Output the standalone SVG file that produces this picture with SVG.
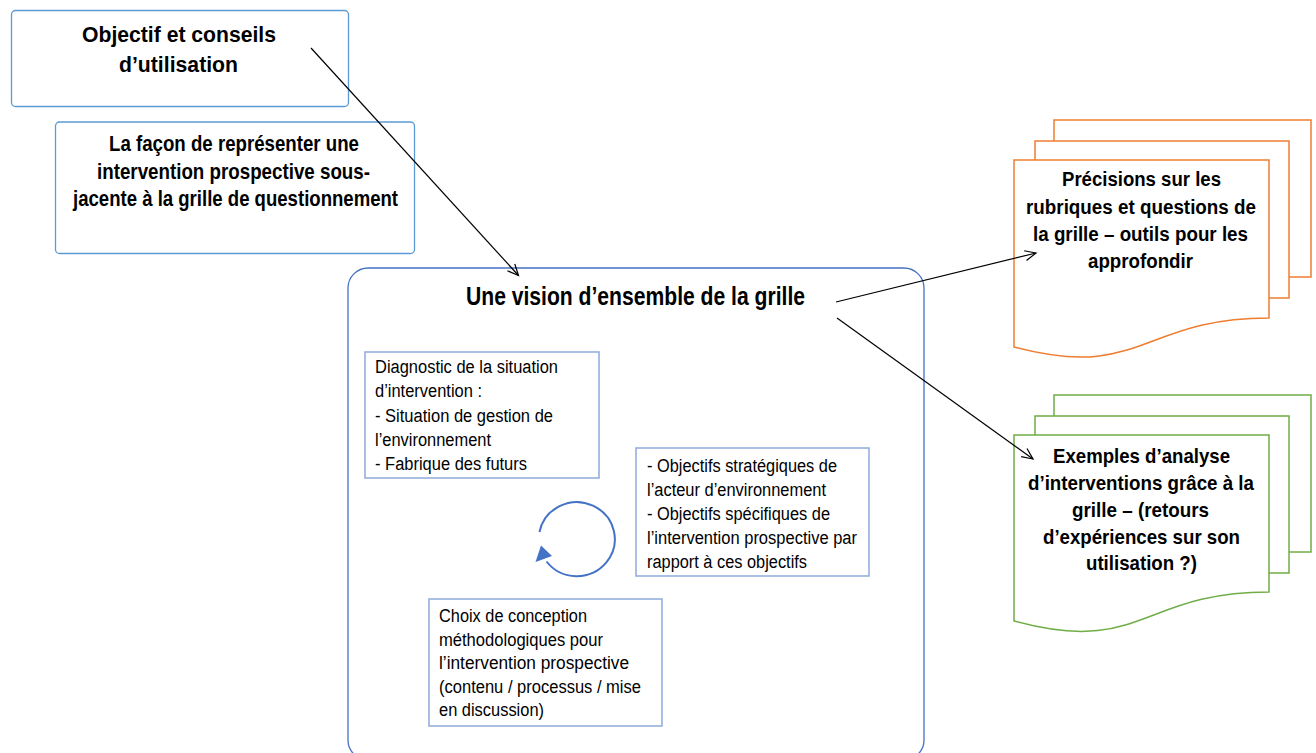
<svg xmlns="http://www.w3.org/2000/svg" width="1316" height="753" viewBox="0 0 1316 753">
<defs>
<style>
.b{font-family:"Liberation Sans",Arial,sans-serif;font-weight:bold;fill:#000}
.r{font-family:"Liberation Sans",Arial,sans-serif;font-size:18px;fill:#000}
.lb{fill:#fff;stroke:#5B9BD5;stroke-width:1.3}
.ib{fill:#fff;stroke:#8FAADC;stroke-width:1.5}
.or{fill:#fff;stroke:#ED7D31;stroke-width:1.5}
.gr{fill:#fff;stroke:#70AD47;stroke-width:1.5}
.cn{fill:none;stroke:#000;stroke-width:1.2}
</style>
<marker id="ah" markerUnits="userSpaceOnUse" markerWidth="14" markerHeight="12" viewBox="0 0 14 12" refX="12" refY="6" orient="auto">
<path d="M1,1 L12,6 L1,11" fill="none" stroke="#000" stroke-width="1.2"/>
</marker>
</defs>
<rect width="1316" height="753" fill="#fff"/>

<g id="objectif">
<rect class="lb" x="11.5" y="10.5" width="337" height="96" rx="4"/>
<text class="b" font-size="22.5" x="82" y="42" textLength="194" lengthAdjust="spacingAndGlyphs">Objectif et conseils</text>
<text class="b" font-size="22.5" x="119" y="71.5" textLength="119" lengthAdjust="spacingAndGlyphs">d’utilisation</text>
</g>

<g id="facon">
<rect class="lb" x="55.5" y="122" width="359" height="131.5" rx="4"/>
<text class="b" font-size="21.5" x="109" y="151" textLength="250" lengthAdjust="spacingAndGlyphs">La façon de représenter une</text>
<text class="b" font-size="21.5" x="97" y="178.5" textLength="273" lengthAdjust="spacingAndGlyphs">intervention prospective sous-</text>
<text class="b" font-size="21.5" x="73" y="206" textLength="325" lengthAdjust="spacingAndGlyphs">jacente à la grille de questionnement</text>
</g>

<g id="vision">
<rect x="348" y="268" width="576" height="492" rx="20" fill="#fff" stroke="#4472C4" stroke-width="1.3"/>
<text class="b" font-size="25" x="466" y="305" textLength="339" lengthAdjust="spacingAndGlyphs">Une vision d’ensemble de la grille</text>
</g>

<g id="diagnostic">
<rect class="ib" x="365" y="352" width="234" height="126"/>
<text class="r" x="375" y="373" textLength="183" lengthAdjust="spacingAndGlyphs">Diagnostic de la situation</text>
<text class="r" x="375" y="397" textLength="107" lengthAdjust="spacingAndGlyphs">d’intervention :</text>
<text class="r" x="375" y="421.5" textLength="178" lengthAdjust="spacingAndGlyphs">- Situation de gestion de</text>
<text class="r" x="375" y="445.5" textLength="116" lengthAdjust="spacingAndGlyphs">l’environnement</text>
<text class="r" x="375" y="469.5" textLength="152" lengthAdjust="spacingAndGlyphs">- Fabrique des futurs</text>
</g>

<g id="objectifs">
<rect class="ib" x="636" y="448" width="233" height="128"/>
<text class="r" x="647" y="472" textLength="190" lengthAdjust="spacingAndGlyphs">- Objectifs stratégiques de</text>
<text class="r" x="647" y="496" textLength="179" lengthAdjust="spacingAndGlyphs">l’acteur d’environnement</text>
<text class="r" x="647" y="520" textLength="183" lengthAdjust="spacingAndGlyphs">- Objectifs spécifiques de</text>
<text class="r" x="647" y="544" textLength="210" lengthAdjust="spacingAndGlyphs">l’intervention prospective par</text>
<text class="r" x="647" y="568" textLength="160" lengthAdjust="spacingAndGlyphs">rapport à ces objectifs</text>
</g>

<g id="choix">
<rect class="ib" x="429" y="599" width="233" height="127"/>
<text class="r" x="439" y="622" textLength="148" lengthAdjust="spacingAndGlyphs">Choix de conception</text>
<text class="r" x="439" y="645.5" textLength="164" lengthAdjust="spacingAndGlyphs">méthodologiques pour</text>
<text class="r" x="439" y="669" textLength="190" lengthAdjust="spacingAndGlyphs">l’intervention prospective</text>
<text class="r" x="439" y="692.5" textLength="202" lengthAdjust="spacingAndGlyphs">(contenu / processus / mise</text>
<text class="r" x="439" y="716" textLength="105" lengthAdjust="spacingAndGlyphs">en discussion)</text>
</g>

<g id="cycle">
<path d="M539.5,532 A38,37 0 1 1 546.5,561.5" fill="none" stroke="#4472C4" stroke-width="2"/>
<polygon points="535.5,562 541,545.5 552,556" fill="#4472C4"/>
</g>

<g id="precisions">
<rect class="or" x="1054" y="120" width="257" height="157"/>
<rect class="or" x="1035" y="141" width="254" height="157"/>
<path class="or" d="M1014,160 H1269 V318 C1141.5,318 1141.5,381 1014,347 Z"/>
<text class="b" font-size="20" x="1062" y="186" textLength="159" lengthAdjust="spacingAndGlyphs">Précisions sur les</text>
<text class="b" font-size="20" x="1026" y="213.5" textLength="230" lengthAdjust="spacingAndGlyphs">rubriques et questions de</text>
<text class="b" font-size="20" x="1033" y="241" textLength="215" lengthAdjust="spacingAndGlyphs">la grille – outils pour les</text>
<text class="b" font-size="20" x="1088" y="268" textLength="105" lengthAdjust="spacingAndGlyphs">approfondir</text>
</g>

<g id="exemples">
<rect class="gr" x="1054" y="395" width="257" height="157"/>
<rect class="gr" x="1035" y="416" width="254" height="157"/>
<path class="gr" d="M1014,435 H1269 V592 C1141.5,592 1141.5,656 1014,621 Z"/>
<text class="b" font-size="20.5" x="1053" y="463" textLength="177" lengthAdjust="spacingAndGlyphs">Exemples d’analyse</text>
<text class="b" font-size="20.5" x="1028" y="490" textLength="226" lengthAdjust="spacingAndGlyphs">d’interventions grâce à la</text>
<text class="b" font-size="20.5" x="1072" y="517" textLength="137" lengthAdjust="spacingAndGlyphs">grille – (retours</text>
<text class="b" font-size="20.5" x="1043" y="543.5" textLength="197" lengthAdjust="spacingAndGlyphs">d’expériences sur son</text>
<text class="b" font-size="20.5" x="1086" y="570" textLength="111" lengthAdjust="spacingAndGlyphs">utilisation ?)</text>
</g>

<g id="connectors">
<line class="cn" x1="311" y1="48" x2="518.5" y2="275.5" marker-end="url(#ah)"/>
<line class="cn" x1="836" y1="302" x2="1036" y2="253" marker-end="url(#ah)"/>
<line class="cn" x1="837" y1="318" x2="1033" y2="459" marker-end="url(#ah)"/>
</g>
</svg>
